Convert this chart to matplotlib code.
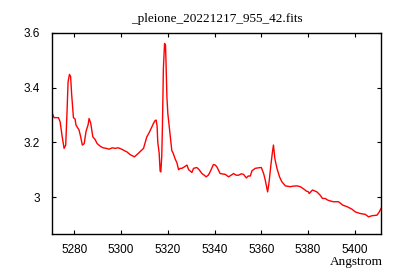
import matplotlib
matplotlib.use("Agg")
import matplotlib.pyplot as plt

# Spectrum (wavelength in Angstrom, relative flux)
wavelength = [5270.6, 5271.3, 5273.2, 5273.9, 5274.8, 5275.6, 5276.3, 5276.9, 5277.3, 5277.9,
              5278.4, 5278.8, 5279.6, 5280.3, 5280.7, 5282.0, 5282.7, 5283.4, 5284.2, 5285.0,
              5285.9, 5286.3, 5287.0, 5287.9, 5288.9, 5289.7, 5291.0, 5292.3, 5293.6, 5294.9,
              5296.2, 5297.5, 5298.7, 5300.0, 5301.3, 5302.5, 5303.9, 5305.7, 5307.4, 5309.6,
              5311.0, 5312.0, 5313.2, 5313.9, 5314.6, 5315.0, 5315.4, 5315.7, 5316.3, 5316.7,
              5317.0, 5317.4, 5317.7, 5318.1, 5318.6, 5319.0, 5319.2, 5319.6, 5320.0, 5321.0,
              5321.7, 5322.3, 5323.1, 5323.9, 5324.6, 5325.3, 5326.0, 5327.0, 5328.2, 5328.9,
              5329.6, 5330.3, 5331.0, 5332.4, 5333.4, 5334.6, 5335.6, 5336.4, 5337.3, 5338.1,
              5339.0, 5339.5, 5340.3, 5341.0, 5341.6, 5342.4, 5344.6, 5346.0, 5347.1, 5348.1,
              5349.3, 5350.3, 5351.4, 5352.4, 5353.6, 5354.4, 5355.3, 5356.0, 5357.4, 5358.8,
              5360.0, 5361.0, 5361.7, 5362.3, 5362.7, 5363.1, 5363.5, 5364.1, 5364.7, 5365.2,
              5365.8, 5366.7, 5367.8, 5368.8, 5370.3, 5372.4, 5373.7, 5375.3, 5376.7, 5378.1,
              5379.3, 5380.2, 5380.5, 5381.9, 5383.8, 5385.2, 5386.2, 5387.4, 5388.2, 5389.1,
              5390.9, 5393.1, 5394.8, 5396.7, 5398.8, 5400.2, 5402.4, 5404.5, 5405.9, 5407.4,
              5409.5, 5410.5, 5411.4]
flux = [3.305, 3.29, 3.29, 3.275, 3.22, 3.178, 3.19, 3.32, 3.42, 3.448,
        3.44, 3.38, 3.29, 3.285, 3.263, 3.245, 3.22, 3.19, 3.195, 3.24,
        3.265, 3.287, 3.27, 3.22, 3.21, 3.196, 3.186, 3.18, 3.178, 3.175,
        3.18, 3.178, 3.18, 3.176, 3.17, 3.165, 3.155, 3.147, 3.16, 3.178,
        3.22, 3.235, 3.257, 3.27, 3.28, 3.281, 3.26, 3.2, 3.16, 3.095,
        3.092, 3.15, 3.263, 3.47, 3.561, 3.555, 3.5, 3.366, 3.305, 3.226,
        3.17, 3.16, 3.14, 3.125, 3.1, 3.105, 3.105, 3.11, 3.117, 3.1,
        3.095, 3.09, 3.105, 3.108, 3.1, 3.086, 3.08, 3.074, 3.08, 3.092,
        3.11, 3.119, 3.117, 3.11, 3.1, 3.086, 3.083, 3.074, 3.08, 3.086,
        3.08, 3.08, 3.085, 3.083, 3.07, 3.077, 3.077, 3.096, 3.105, 3.107,
        3.108, 3.086, 3.062, 3.035, 3.019, 3.04, 3.068, 3.117, 3.16, 3.19,
        3.141, 3.105, 3.074, 3.056, 3.041, 3.038, 3.04, 3.041, 3.038, 3.03,
        3.022, 3.019, 3.013, 3.026, 3.019, 3.007, 2.995, 2.995, 2.99, 2.987,
        2.983, 2.983, 2.971, 2.965, 2.956, 2.946, 2.94, 2.937, 2.928, 2.932,
        2.934, 2.946, 2.961]

x_ticks = [5280, 5300, 5320, 5340, 5360, 5380, 5400]
y_ticks = [3.0, 3.2, 3.4, 3.6]
y_tick_labels = ["3", "3.2", "3.4", "3.6"]

fig = plt.figure(figsize=(4, 2.8), dpi=100)
ax = fig.add_axes([0.131, 0.163, 0.8225, 0.72])

ax.plot(wavelength, flux, color="red", linewidth=1.0)

ax.set_xlim(5270.6, 5411.4)
ax.set_ylim(2.864, 3.6)
ax.set_xticks(x_ticks)
ax.set_yticks(y_ticks)
ax.set_yticklabels(y_tick_labels)

ax.tick_params(direction="in", length=3, width=0.8, top=True, right=True,
               labelsize=8.5, colors="black")
ax.tick_params(axis="x", pad=7)
ax.tick_params(axis="y", pad=9)
for lab in ax.get_xticklabels() + ax.get_yticklabels():
    lab.set_fontfamily("Liberation Sans")
for sp in ax.spines.values():
    sp.set_linewidth(1.0)

fig.text(216.8 / 400, 1 - 19 / 280, "_pleione_20221217_955_42.fits",
         ha="center", va="center", fontsize=9.5, family="Liberation Serif")
fig.text(383 / 400, 1 - 261.7 / 280, "Angstrom",
         ha="right", va="center", fontsize=9.5, family="Liberation Serif")

fig.savefig("out.png", dpi=100)
